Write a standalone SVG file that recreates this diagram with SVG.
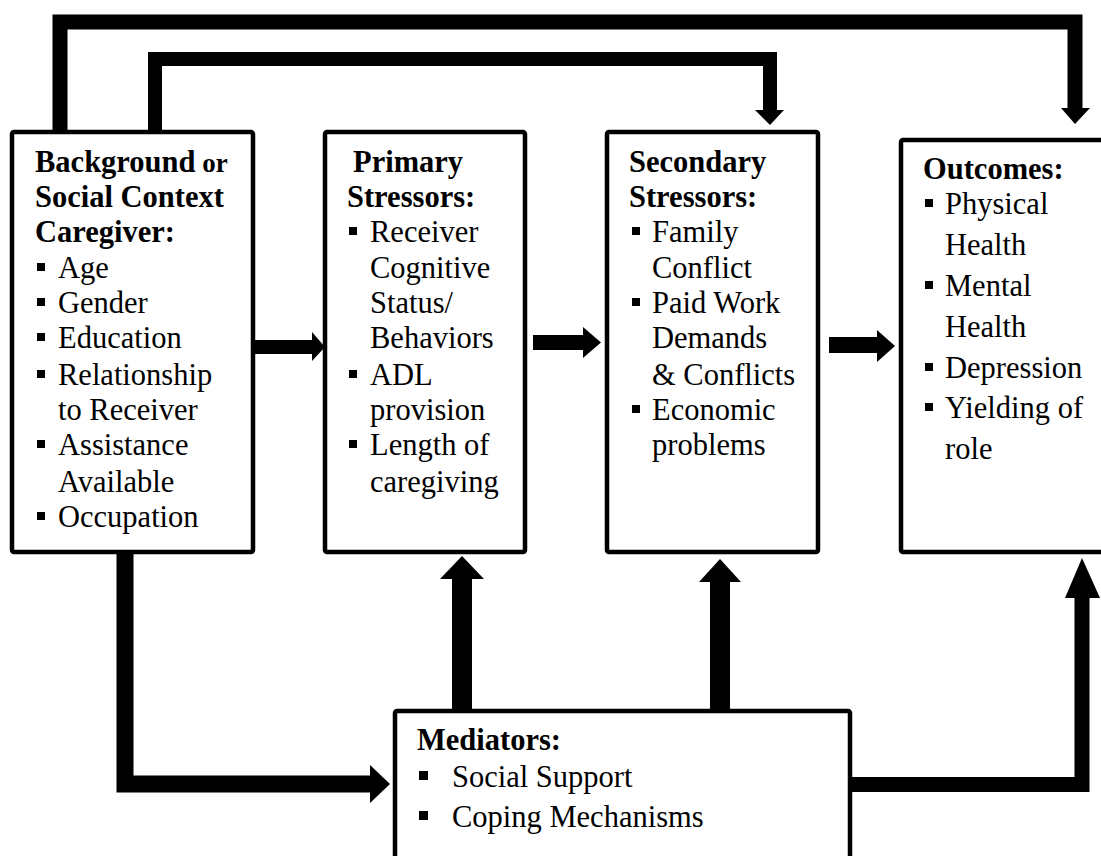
<svg xmlns="http://www.w3.org/2000/svg" width="1101" height="856" viewBox="0 0 1101 856">
<style>
.box{fill:#fff;stroke:#000;stroke-width:4.5;}
.t{font-family:"Liberation Serif","Times New Roman",serif;font-size:30.5px;fill:#000;}
.b{font-weight:bold;}
.or{font-size:27px;}
.c{fill:none;stroke:#000;stroke-linejoin:miter;}
.h{fill:#000;}
.bl{fill:#000;}
</style>
<rect width="1101" height="856" fill="#fff"/>
<g id="connectors">
<path class="c" d="M60,133 V22 H1075 V109" stroke-width="15"/>
<polygon class="h" points="1061,108 1090,108 1075,124"/>
<path class="c" d="M155,133 V59 H770 V111" stroke-width="14"/>
<polygon class="h" points="755,110 784,110 770,125"/>
<path class="c" d="M253,347 H313" stroke-width="14"/>
<polygon class="h" points="312,332 312,361 325,347"/>
<path class="c" d="M533,342.5 H584" stroke-width="15"/>
<polygon class="h" points="583,327 583,358 601,342.5"/>
<path class="c" d="M829,345 H878" stroke-width="16"/>
<polygon class="h" points="877,330 877,362 895,346"/>
<path class="c" d="M462,712 V578" stroke-width="20"/>
<polygon class="h" points="440,579 484,579 462,556"/>
<path class="c" d="M720,712 V581" stroke-width="20"/>
<polygon class="h" points="699,582 741,582 720,559"/>
<path class="c" d="M125,552 V784 H372" stroke-width="17"/>
<polygon class="h" points="370,765 370,803 390,784"/>
<path class="c" d="M850,784.5 H1082 V597" stroke-width="15" stroke-linejoin="round"/>
<polygon class="h" points="1065,598 1100,598 1082,558"/>
</g>
<g id="background">
<rect class="box" x="12" y="132" width="241" height="420" rx="2"/>
<text class="t b" x="35" y="172">Background<tspan class="or"> or</tspan></text>
<text class="t b" x="35" y="207">Social Context</text>
<text class="t b" x="35" y="242">Caregiver:</text>
<rect class="bl" x="37" y="263" width="8" height="8"/>
<text class="t" x="58" y="278">Age</text>
<rect class="bl" x="37" y="298" width="8" height="8"/>
<text class="t" x="58" y="313">Gender</text>
<rect class="bl" x="37" y="333" width="8" height="8"/>
<text class="t" x="58" y="348">Education</text>
<rect class="bl" x="37" y="370" width="8" height="8"/>
<text class="t" x="58" y="385">Relationship</text>
<text class="t" x="58" y="420">to Receiver</text>
<rect class="bl" x="37" y="440" width="8" height="8"/>
<text class="t" x="58" y="455">Assistance</text>
<text class="t" x="58" y="492">Available</text>
<rect class="bl" x="37" y="512" width="8" height="8"/>
<text class="t" x="58" y="527">Occupation</text>
</g>
<g id="primary">
<rect class="box" x="325" y="132" width="200" height="420" rx="2"/>
<text class="t b" x="353" y="172">Primary</text>
<text class="t b" x="347" y="207">Stressors:</text>
<rect class="bl" x="349" y="227" width="8" height="8"/>
<text class="t" x="370" y="242">Receiver</text>
<text class="t" x="370" y="278">Cognitive</text>
<text class="t" x="370" y="313">Status/</text>
<text class="t" x="370" y="348">Behaviors</text>
<rect class="bl" x="349" y="370" width="8" height="8"/>
<text class="t" x="370" y="385">ADL</text>
<text class="t" x="370" y="420">provision</text>
<rect class="bl" x="349" y="440" width="8" height="8"/>
<text class="t" x="370" y="455">Length of</text>
<text class="t" x="370" y="492">caregiving</text>
</g>
<g id="secondary">
<rect class="box" x="607" y="132" width="211" height="420" rx="2"/>
<text class="t b" x="629" y="172">Secondary</text>
<text class="t b" x="629" y="207">Stressors:</text>
<rect class="bl" x="632" y="227" width="8" height="8"/>
<text class="t" x="652" y="242">Family</text>
<text class="t" x="652" y="278">Conflict</text>
<rect class="bl" x="632" y="298" width="8" height="8"/>
<text class="t" x="652" y="313">Paid Work</text>
<text class="t" x="652" y="348">Demands</text>
<text class="t" x="652" y="385">&amp; Conflicts</text>
<rect class="bl" x="632" y="405" width="8" height="8"/>
<text class="t" x="652" y="420">Economic</text>
<text class="t" x="652" y="455">problems</text>
</g>
<g id="outcomes">
<rect class="box" x="901" y="140" width="210" height="412" rx="2"/>
<text class="t b" x="923" y="179">Outcomes:</text>
<rect class="bl" x="925" y="199" width="8" height="8"/>
<text class="t" x="945" y="214">Physical</text>
<text class="t" x="945" y="255">Health</text>
<rect class="bl" x="925" y="281" width="8" height="8"/>
<text class="t" x="945" y="296">Mental</text>
<text class="t" x="945" y="337">Health</text>
<rect class="bl" x="925" y="363" width="8" height="8"/>
<text class="t" x="945" y="378">Depression</text>
<rect class="bl" x="925" y="403" width="8" height="8"/>
<text class="t" x="945" y="418">Yielding of</text>
<text class="t" x="945" y="459">role</text>
</g>
<g id="mediators">
<rect class="box" x="395" y="711" width="455" height="148" rx="2"/>
<text class="t b" x="417" y="750">Mediators:</text>
<rect class="bl" x="419" y="771" width="9" height="9"/>
<text class="t" x="452" y="787">Social Support</text>
<rect class="bl" x="419" y="811" width="9" height="9"/>
<text class="t" x="452" y="827">Coping Mechanisms</text>
</g>
</svg>
